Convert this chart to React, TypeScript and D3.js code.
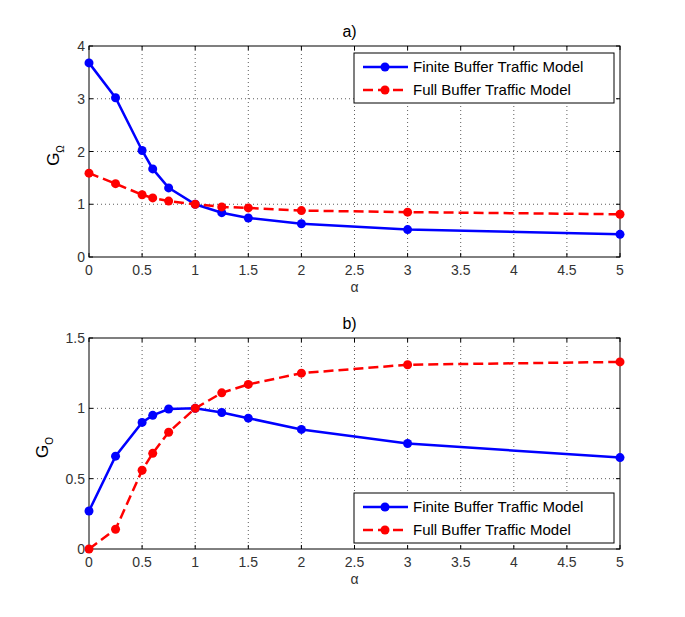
import React, { useRef, useEffect } from 'react';
import * as d3 from 'd3';

// alpha values shared by every series
const alphas = [0, 0.25, 0.5, 0.6, 0.75, 1, 1.25, 1.5, 2, 3, 5];

// panel a) G_Omega
const finiteA = [3.68, 3.02, 2.02, 1.67, 1.31, 1.0, 0.84, 0.74, 0.63, 0.52, 0.43];
const fullA = [1.59, 1.39, 1.18, 1.12, 1.06, 1.0, 0.95, 0.93, 0.88, 0.85, 0.81];

// panel b) G_O
const finiteB = [0.27, 0.66, 0.9, 0.95, 0.995, 1.0, 0.97, 0.93, 0.85, 0.75, 0.65];
const fullB = [0.0, 0.14, 0.56, 0.68, 0.83, 1.0, 1.11, 1.17, 1.25, 1.31, 1.33];

const xTicks = [0, 0.5, 1, 1.5, 2, 2.5, 3, 3.5, 4, 4.5, 5];
const yTicksA = [0, 1, 2, 3, 4];
const yTicksB = [0, 0.5, 1, 1.5];
const legendLabels = ['Finite Buffer Traffic Model', 'Full Buffer Traffic Model'];

const FONT = 'Liberation Sans, Arial, sans-serif';
const BLUE = '#0000ff';
const RED = '#ff0000';

function drawPanel(svg, opts) {
  const { top, bottom, left, right, yMax, yTicks, s1, s2, title, sub, legendY, ylabX } = opts;
  const x = d3.scaleLinear().domain([0, 5]).range([left, right]);
  const y = d3.scaleLinear().domain([0, yMax]).range([bottom, top]);
  const g = svg.append('g');

  g.append('rect').attr('x', left).attr('y', top).attr('width', right - left).attr('height', bottom - top)
    .attr('fill', '#fff');

  // grid
  g.selectAll('.gx').data(xTicks.slice(1, -1)).enter().append('line')
    .attr('x1', d => x(d)).attr('x2', d => x(d)).attr('y1', top).attr('y2', bottom)
    .attr('stroke', '#333').attr('stroke-width', 0.8).attr('stroke-dasharray', '1,3');
  g.selectAll('.gy').data(yTicks.slice(1, -1)).enter().append('line')
    .attr('y1', d => y(d)).attr('y2', d => y(d)).attr('x1', left).attr('x2', right)
    .attr('stroke', '#333').attr('stroke-width', 0.8).attr('stroke-dasharray', '1,3');

  // ticks inside
  xTicks.forEach(t => {
    g.append('line').attr('x1', x(t)).attr('x2', x(t)).attr('y1', bottom).attr('y2', bottom - 4).attr('stroke', '#000');
    g.append('line').attr('x1', x(t)).attr('x2', x(t)).attr('y1', top).attr('y2', top + 4).attr('stroke', '#000');
  });
  yTicks.forEach(t => {
    g.append('line').attr('y1', y(t)).attr('y2', y(t)).attr('x1', left).attr('x2', left + 4).attr('stroke', '#000');
    g.append('line').attr('y1', y(t)).attr('y2', y(t)).attr('x1', right).attr('x2', right - 4).attr('stroke', '#000');
  });

  g.append('rect').attr('x', left).attr('y', top).attr('width', right - left).attr('height', bottom - top)
    .attr('fill', 'none').attr('stroke', '#000').attr('stroke-width', 1);

  // tick labels
  g.selectAll('.xl').data(xTicks).enter().append('text')
    .attr('x', d => x(d)).attr('y', bottom + 18).attr('text-anchor', 'middle')
    .attr('font-family', FONT).attr('font-size', 14).attr('fill', '#333').text(d => String(d));
  g.selectAll('.yl').data(yTicks).enter().append('text')
    .attr('x', left - 4).attr('y', d => y(d) + 5).attr('text-anchor', 'end')
    .attr('font-family', FONT).attr('font-size', 14).attr('fill', '#333').text(d => String(d));

  // title, labels
  g.append('text').attr('x', (left + right) / 2 - 5).attr('y', top - 9).attr('text-anchor', 'middle')
    .attr('font-family', FONT).attr('font-size', 16).attr('fill', '#000').text(title);
  g.append('text').attr('x', (left + right) / 2).attr('y', bottom + 35).attr('text-anchor', 'middle')
    .attr('font-family', FONT).attr('font-size', 14).attr('fill', '#333').text('α');
  const yl = g.append('text')
    .attr('transform', `translate(${ylabX},${(top + bottom) / 2 + 4}) rotate(-90)`)
    .attr('text-anchor', 'middle').attr('font-family', FONT).attr('font-size', 17).attr('fill', '#000');
  yl.append('tspan').text('G');
  yl.append('tspan').attr('dy', 5).attr('font-size', 10).text(sub);

  const line = d3.line().x(d => x(d[0])).y(d => y(d[1]));
  const series = [
    { vals: s1, color: BLUE, dash: null },
    { vals: s2, color: RED, dash: '10,5' },
  ];
  series.forEach(s => {
    const pts = alphas.map((a, i) => [a, s.vals[i]]);
    g.append('path').attr('d', line(pts)).attr('fill', 'none').attr('stroke', s.color)
      .attr('stroke-width', 2.5).attr('stroke-dasharray', s.dash);
    g.selectAll(null).data(pts).enter().append('circle')
      .attr('cx', d => x(d[0])).attr('cy', d => y(d[1])).attr('r', 4.5).attr('fill', s.color);
  });

  // legend
  const lx = 354, lw = 260, lh = 50;
  g.append('rect').attr('x', lx).attr('y', legendY).attr('width', lw).attr('height', lh)
    .attr('fill', '#fff').attr('stroke', '#000').attr('stroke-width', 1);
  series.forEach((s, i) => {
    const cy = legendY + 14 + i * 23;
    g.append('line').attr('x1', lx + 9).attr('x2', lx + 54).attr('y1', cy).attr('y2', cy)
      .attr('stroke', s.color).attr('stroke-width', 2.5).attr('stroke-dasharray', s.dash);
    g.append('circle').attr('cx', lx + 31).attr('cy', cy).attr('r', 4.5).attr('fill', s.color);
    g.append('text').attr('x', lx + 59).attr('y', cy + 5).attr('font-family', FONT).attr('font-size', 15)
      .attr('fill', '#000').text(legendLabels[i]);
  });
}

export default function App() {
  const ref = useRef(null);
  useEffect(() => {
    const svg = d3.select(ref.current);
    svg.selectAll('*').remove();
    svg.append('rect').attr('width', 685).attr('height', 617).attr('fill', '#fff');
    drawPanel(svg, { top: 46, bottom: 257, left: 89, right: 620, yMax: 4, yTicks: yTicksA,
      s1: finiteA, s2: fullA, title: 'a)', sub: 'Ω', legendY: 53, ylabX: 59 });
    drawPanel(svg, { top: 338, bottom: 549, left: 89, right: 620, yMax: 1.5, yTicks: yTicksB,
      s1: finiteB, s2: fullB, title: 'b)', sub: 'O', legendY: 493, ylabX: 48 });
  }, []);
  return <svg ref={ref} width={685} height={617} style={{ position: 'absolute', left: 0, top: 0 }} />;
}
